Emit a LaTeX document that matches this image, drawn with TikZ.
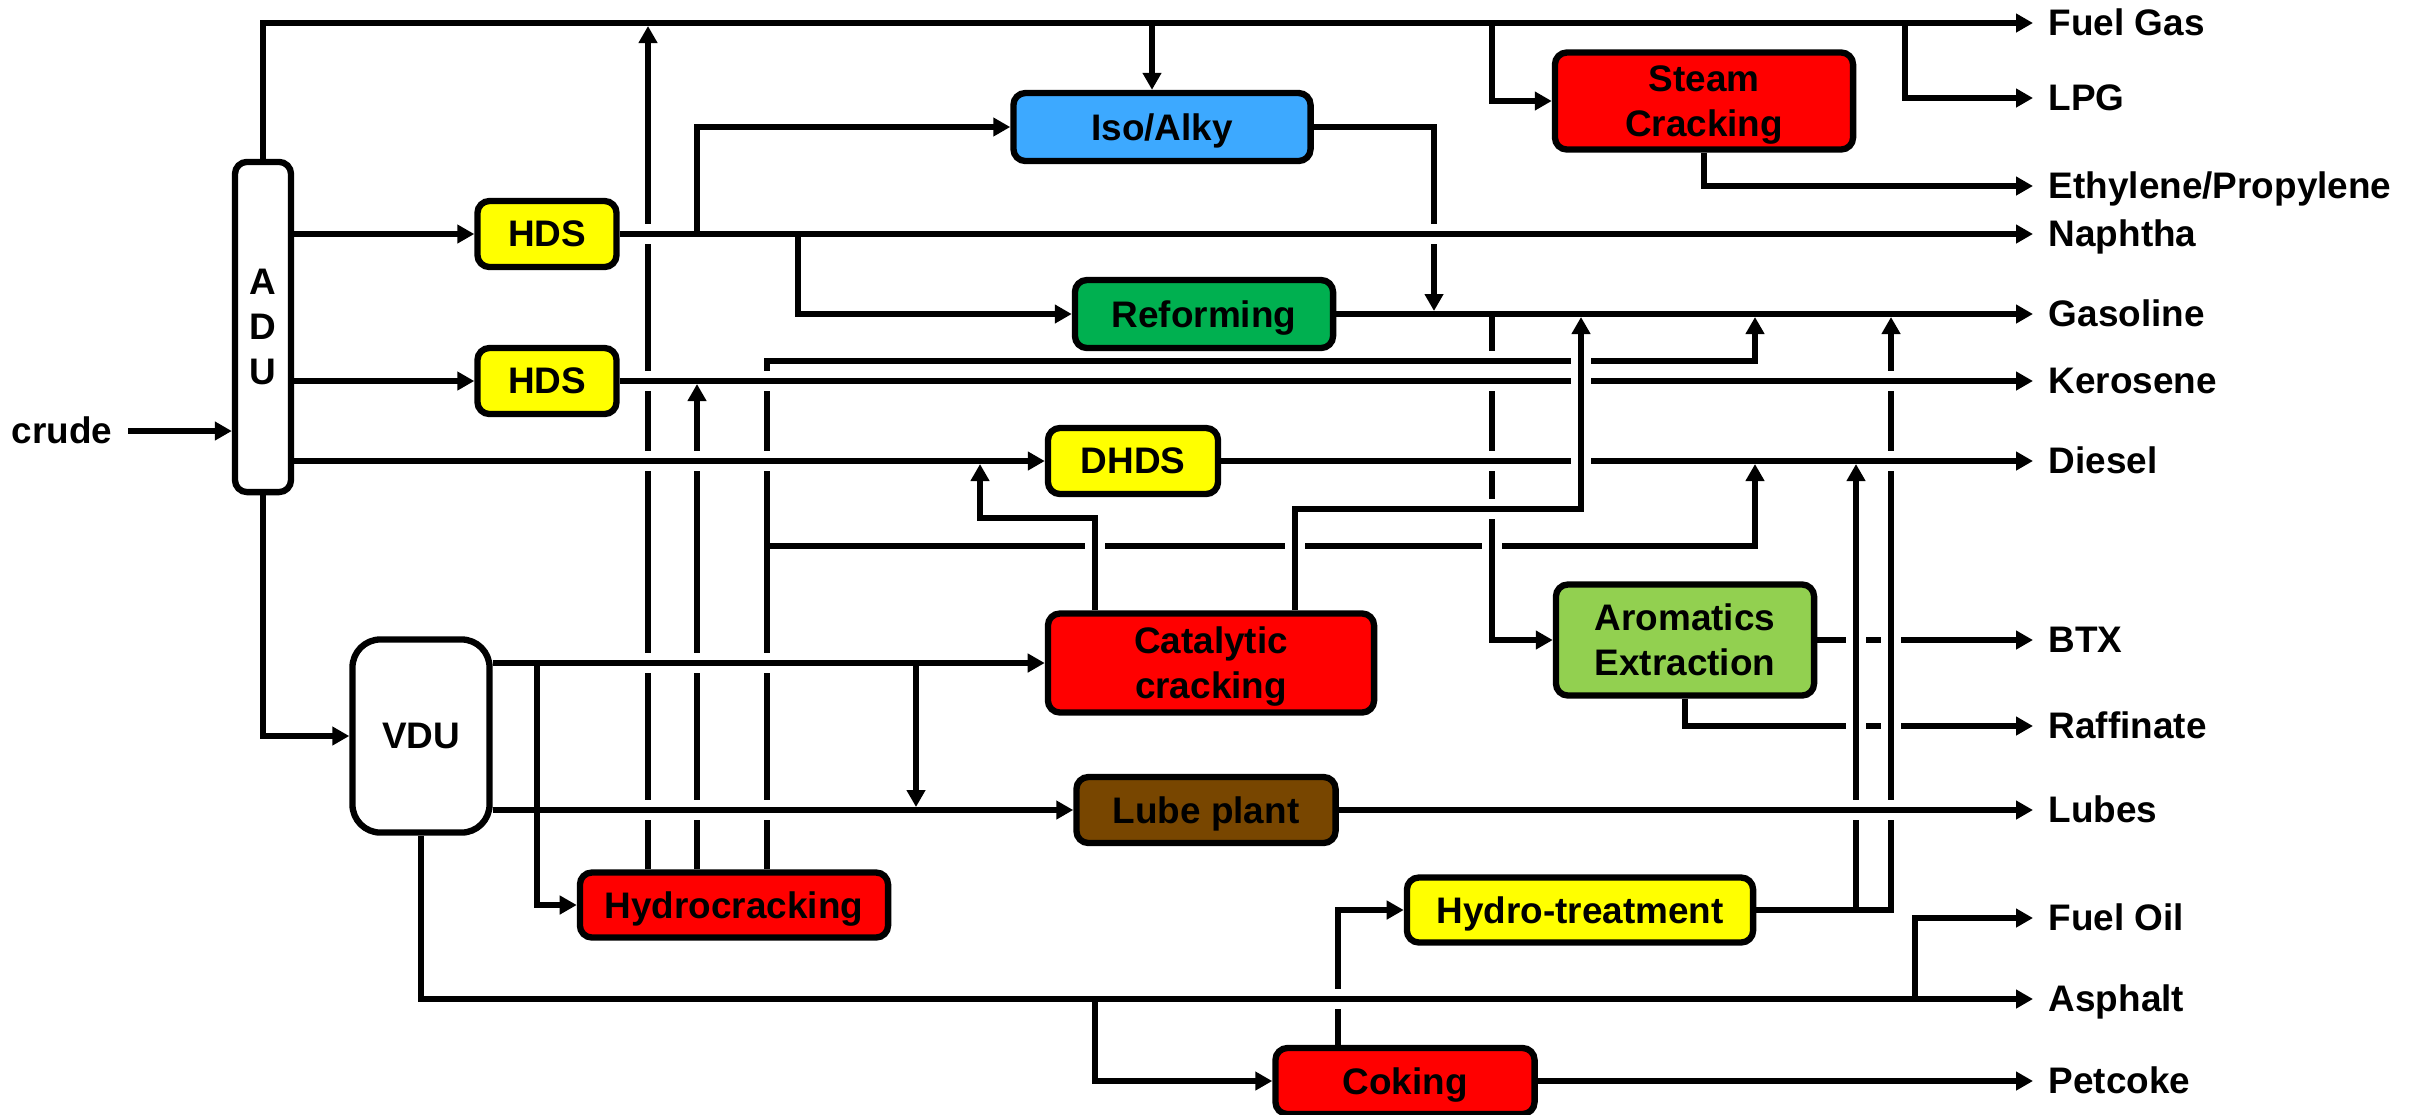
\documentclass[tikz,border=0pt]{standalone}
\usepackage{fontspec}
\setmainfont{Liberation Sans}
\usetikzlibrary{arrows.meta}

\definecolor{hdsyellow}{RGB}{255,255,0}
\definecolor{isoblue}{RGB}{61,169,255}
\definecolor{crkred}{RGB}{255,0,0}
\definecolor{refgreen}{RGB}{0,176,80}
\definecolor{lubebrown}{RGB}{120,70,0}
\definecolor{aromgreen}{RGB}{146,208,80}

\tikzset{
  unit/.style={draw, line width=1.8pt, rounded corners=0.12cm, inner sep=0pt, align=center, text depth=0pt},
  pipe/.style={line width=1.8pt},
  flow/.style={pipe, -{Triangle[length=1.7mm,width=1.8mm]}},
  prod/.style={anchor=west, inner xsep=0.15cm, inner ysep=0pt, text height=0.72em, text depth=0pt}
}

\newcommand{\vgap}[2]{\fill[white] (#1-5,#2-10) rectangle (#1+5,#2+10);
  \draw[pipe] (#1-6,#2) -- (#1+6,#2);}
\newcommand{\hgap}[2]{\fill[white] (#1-10,#2-5) rectangle (#1+10,#2+5);
  \draw[pipe] (#1,#2-6) -- (#1,#2+6);}

\begin{document}
\begin{tikzpicture}[x=0.01cm, y=-0.01cm, font=\fontsize{10.5}{12.8}\selectfont\bfseries]
\useasboundingbox (0,0) rectangle (2425,1114);

\node[unit, minimum width=0.56cm, minimum height=3.30cm] (ADU) at (263,327) {A\\D\\U};
\node[unit, rounded corners=0.28cm, minimum width=1.37cm, minimum height=1.93cm] (VDU) at (421,736) {VDU};
\node[unit, fill=hdsyellow, minimum width=1.39cm, minimum height=0.66cm] (hdsA) at (547,234) {HDS};
\node[unit, fill=hdsyellow, minimum width=1.39cm, minimum height=0.66cm] (hdsB) at (547,381) {HDS};
\node[unit, fill=isoblue, minimum width=2.97cm, minimum height=0.68cm] (iso) at (1162,127) {Iso/Alky};
\node[unit, fill=crkred, minimum width=2.98cm, minimum height=0.97cm] (steam) at (1704,101) {Steam\\Cracking};
\node[unit, fill=refgreen, minimum width=2.58cm, minimum height=0.68cm] (refm) at (1204,314) {Reforming};
\node[unit, fill=hdsyellow, minimum width=1.70cm, minimum height=0.66cm] (dhds) at (1133,461) {DHDS};
\node[unit, fill=crkred, minimum width=3.26cm, minimum height=0.99cm] (catc) at (1211,663) {Catalytic\\cracking};
\node[unit, fill=lubebrown, minimum width=2.59cm, minimum height=0.66cm] (lube) at (1206,810) {Lube plant};
\node[unit, fill=crkred, minimum width=3.08cm, minimum height=0.65cm] (hcrk) at (734,905) {Hydrocracking};
\node[unit, fill=hdsyellow, minimum width=3.46cm, minimum height=0.65cm] (htrt) at (1580,910) {Hydro-treatment};
\node[unit, fill=crkred, minimum width=2.59cm, minimum height=0.66cm] (coke) at (1405,1081) {Coking};
\node[unit, fill=aromgreen, minimum width=2.58cm, minimum height=1.11cm] (arom) at (1685,640) {Aromatics\\Extraction};

\node[prod, anchor=east] (crude) at (128,431) {crude};
\node[prod] (fgas) at (2033,23) {Fuel Gas};
\node[prod] (lpg) at (2033,98) {LPG};
\node[prod] (ethy) at (2033,186) {Ethylene/Propylene};
\node[prod] (naph) at (2033,234) {Naphtha};
\node[prod] (gaso) at (2033,314) {Gasoline};
\node[prod] (kero) at (2033,381) {Kerosene};
\node[prod] (dies) at (2033,461) {Diesel};
\node[prod] (btx) at (2033,640) {BTX};
\node[prod] (raff) at (2033,726) {Raffinate};
\node[prod] (lubes) at (2033,810) {Lubes};
\node[prod] (foil) at (2033,918) {Fuel Oil};
\node[prod] (asph) at (2033,999) {Asphalt};
\node[prod] (pcok) at (2033,1081) {Petcoke};

\coordinate (t1) at (1152,23);
\coordinate (t2) at (1492,23);
\coordinate (t3) at (1905,23);
\coordinate (n1) at (697,234);
\coordinate (n2) at (798,234);
\coordinate (g1) at (1434,311);
\coordinate (g2) at (1492,314);
\coordinate (g3) at (1755,317);
\coordinate (g4) at (1581,317);
\coordinate (g5) at (1891,317);
\coordinate (d1) at (1755,464);
\coordinate (d2) at (980,464);
\coordinate (d3) at (1856,464);
\coordinate (u1) at (648,26);
\coordinate (u2) at (697,384);
\coordinate (u3) at (767,361);
\coordinate (u4) at (767,546);
\coordinate (c1) at (1095,518);
\coordinate (c2) at (1295,509);
\coordinate (v1) at (537,663);
\coordinate (v2) at (916,663);
\coordinate (l1) at (916,807);
\coordinate (a1) at (1095,999);
\coordinate (a2) at (1915,999);
\coordinate (k1) at (1338,910);
\coordinate (h2) at (1856,910);

\draw[flow] (crude.east) -- (crude -| ADU.west);
\draw[flow] (ADU.north) |- (fgas.west);
\draw[flow] (ADU.east |- hdsA) -- (hdsA.west);
\draw[flow] (ADU.east |- hdsB) -- (hdsB.west);
\draw[flow] (ADU.east |- dhds) -- (dhds.west);
\draw[flow] (ADU.south) |- (VDU.west);

\draw[flow] (t1) -- (t1 |- iso.north);
\draw[flow] (t2) |- (steam.west);
\draw[flow] (t3) |- (lpg.west);
\draw[flow] (steam.south) |- (ethy.west);

\draw[flow] (hdsA.east) -- (naph.west);
\draw[flow] (n1) |- (iso.west);
\draw[flow] (n2) |- (refm.west);
\draw[flow] (iso.east) -| (g1);
\draw[flow] (refm.east) -- (gaso.west);
\draw[flow] (g2) |- (arom.west);
\draw[flow] (hdsB.east) -- (kero.west);
\draw[flow] (dhds.east) -- (dies.west);

\draw[flow] (VDU.east |- catc) -- (catc.west);
\draw[flow] (VDU.east |- lube) -- (lube.west);
\draw[flow] (v1) |- (hcrk.west);
\draw[flow] (v2) -- (l1);
\draw[flow] (lube.east) -- (lubes.west);
\draw[flow] (VDU.south) |- (asph.west);
\draw[flow] (a1) |- (coke.west);
\draw[flow] (a2) |- (foil.west);
\draw[flow] (coke.east) -- (pcok.west);

\draw[flow] (u1 |- hcrk.north) -- (u1);
\draw[flow] (u2 |- hcrk.north) -- (u2);
\draw[flow] (u3 |- hcrk.north) -- (u3) -| (g3);
\draw[flow] (u4) -| (d1);

\draw[flow] (c1 |- catc.north) -- (c1) -| (d2);
\draw[flow] (c2 |- catc.north) -- (c2) -| (g4);

\draw[flow] (k1 |- coke.north) -- (k1) -- (htrt.west);
\draw[flow] (htrt.east) -| (g5);
\draw[flow] (h2) -- (d3);

\draw[flow] (arom.east) -- (btx.west);
\draw[flow] (arom.south) |- (raff.west);

\foreach \x/\y in {648/234, 648/381, 648/461, 648/663, 648/810, 697/461, 697/663, 697/810,
  767/381, 767/461, 767/663, 767/810, 1434/234, 1492/361, 1492/381, 1492/461, 1492/509,
  1338/999, 1891/381, 1891/461, 1891/810, 1856/810}
  \vgap{\x}{\y};
\foreach \x/\y in {1095/546, 1295/546, 1492/546, 1581/361, 1581/381, 1581/461,
  1856/640, 1891/640, 1856/726, 1891/726}
  \hgap{\x}{\y};

\end{tikzpicture}
\end{document}
